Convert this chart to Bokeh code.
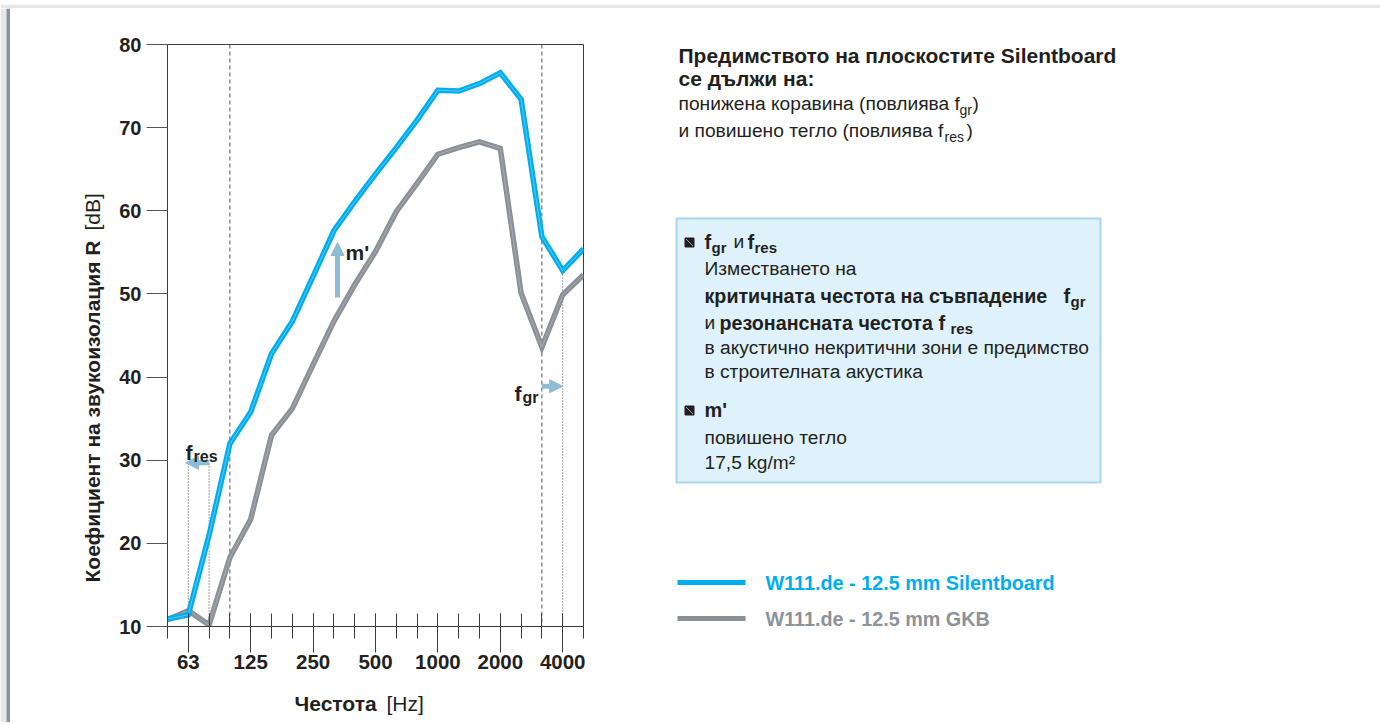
from math import pi
from bokeh.plotting import figure
from bokeh.layouts import row, column
from bokeh.models import Range1d, FixedTicker, Span, Arrow, NormalHead, Label, ColumnDataSource
from bokeh.core.properties import value
from bokeh.embed import file_html
from bokeh.resources import INLINE

# ---------------- data ----------------
bands = ["50", "63", "80", "100", "125", "160", "200", "250", "315", "400", "500",
         "630", "800", "1000", "1250", "1600", "2000", "2500", "3150", "4000", "5000"]
silentboard = [10.9, 11.4, 21.0, 32.0, 35.8, 42.8, 46.7, 52.1, 57.6, 61.1, 64.4,
               67.6, 70.9, 74.5, 74.4, 75.3, 76.6, 73.4, 56.9, 52.8, 55.4]
gkb = [10.8, 11.9, 10.2, 18.3, 22.9, 33.0, 36.2, 41.5, 46.7, 51.1, 55.1,
       59.9, 63.3, 66.8, 67.6, 68.3, 67.5, 50.1, 43.6, 49.9, 52.3]
labelled_bands = ["63", "125", "250", "500", "1000", "2000", "4000"]
y_ticks = [10, 20, 30, 40, 50, 60, 70, 80]
dashed_bands = ["100", "3150"]
fres_bands = ["63", "80"]
fgr_bands = ["3150", "4000"]
fres_level = 29.7
fgr_level = 38.9
series_names = ["W111.de - 12.5 mm Silentboard", "W111.de - 12.5 mm GKB"]

FONT = "Liberation Sans"
INK = "#231f20"
BLUE = "#00aeef"
GRAY = "#8a9096"
ARROW = "#8dbdd6"
FRAME = "#8b9399"
OUTER = "#e6e8e8"

TOTAL_W, TOTAL_H = 1380, 722
xi = list(range(len(bands)))
idx = {b: i for i, b in enumerate(bands)}


def canvas(x0, y0, w, h, xr=None):
    f = figure(width=w, height=h,
               x_range=Range1d(*(xr if xr else (x0, x0 + w))), y_range=Range1d(y0 + h, y0),
               min_border=0, x_axis_location=None, y_axis_location=None,
               output_backend="svg", toolbar_location=None)
    f.outline_line_color = None
    f.grid.visible = False
    f.background_fill_color = "white"
    f.border_fill_color = "white"
    return f


def T(f, x, y, s, size, bold=False, color=INK, angle=0.0, baseline="middle"):
    f.text(x=[x], y=[y], text=[s], text_font=value(FONT), text_font_size=value(f"{size}px"),
           text_font_style="bold" if bold else "normal", text_color=color,
           text_align="left", text_baseline=baseline, angle=angle)


# ---------------- chart ----------------
FL, FR, FT, FB = 167, 583, 44, 626      # plot frame, page px
CX0, CY0, CX1, CY1 = 110, 8, 611, 684   # chart figure box, page px
p = figure(width=CX1 - CX0, height=CY1 - CY0, x_range=Range1d(0, len(bands) - 1), y_range=Range1d(10, 80),
           min_border_left=FL - CX0, min_border_right=CX1 - FR,
           min_border_top=FT - CY0, min_border_bottom=CY1 - FB,
           output_backend="svg", toolbar_location=None)
p.outline_line_color = "#3c3c3c"
p.outline_line_width = 1
p.xgrid.visible = False
p.ygrid.visible = False
p.border_fill_color = "white"


def cx(px):
    return (px - FL) / (FR - FL) * (len(bands) - 1)


def cy(py):
    return 10 + (FB - py) / (FB - FT) * 70


p.yaxis.ticker = FixedTicker(ticks=y_ticks)
p.yaxis.major_tick_out = 21
p.yaxis.major_tick_in = 0
p.yaxis.minor_tick_out = 0
p.yaxis.minor_tick_in = 0
p.yaxis.axis_line_color = "#3c3c3c"
p.yaxis.major_tick_line_color = "#555555"
p.yaxis.major_label_text_font = FONT
p.yaxis.major_label_text_font_style = "bold"
p.yaxis.major_label_text_font_size = "20px"
p.yaxis.major_label_text_color = INK
p.yaxis.major_label_standoff = 5

p.xaxis.ticker = FixedTicker(ticks=[idx[b] for b in labelled_bands], minor_ticks=xi)
p.xaxis.major_label_overrides = {idx[b]: b for b in labelled_bands}
p.xaxis.major_tick_in = 13
p.xaxis.major_tick_out = 26
p.xaxis.minor_tick_in = 13
p.xaxis.minor_tick_out = 12
p.xaxis.axis_line_color = "#3c3c3c"
p.xaxis.major_tick_line_color = "#3c3c3c"
p.xaxis.minor_tick_line_color = "#3c3c3c"
p.xaxis.major_label_text_font = FONT
p.xaxis.major_label_text_font_style = "bold"
p.xaxis.major_label_text_font_size = "20.5px"
p.xaxis.major_label_text_color = INK
p.xaxis.major_label_standoff = 2

for b in dashed_bands:
    p.add_layout(Span(location=idx[b], dimension="height", line_color="#555555",
                      line_dash="4 3", line_width=1, level="underlay"))

dx = [idx[b] for b in fres_bands] + [idx[fgr_bands[1]]]
dtop = [fres_level, fres_level, silentboard[idx[fgr_bands[1]]]]
p.segment(x0=dx, y0=[10] * 3, x1=dx, y1=dtop, line_color="#444444", line_width=1, line_dash="1 2")

src = ColumnDataSource(dict(x=xi, sb=silentboard, gkb=gkb))
p.line("x", "gkb", source=src, line_color=GRAY, line_width=5.5, line_join="miter")
p.line("x", "gkb", source=src, line_color="#b4b9bd", line_width=1, alpha=0.7)
p.line("x", "sb", source=src, line_color=BLUE, line_width=5.5, line_join="miter")
p.line("x", "sb", source=src, line_color="#7fd4f6", line_width=1, alpha=0.7)


def arrow(x0, y0, x1, y1):
    p.add_layout(Arrow(end=NormalHead(size=13, fill_color=ARROW, line_color=ARROW),
                       x_start=x0, y_start=y0, x_end=x1, y_end=y1,
                       line_color=ARROW, line_width=5))


arrow(idx["80"], fres_level, cx(185), fres_level)
arrow(idx["3150"], fgr_level, idx["4000"], fgr_level)
arrow(cx(337), cy(297), cx(337), cy(242))


def clab(px, py, s, size, bold=True):
    p.add_layout(Label(x=cx(px), y=cy(py), text=s, text_font=FONT, text_font_size=f"{size}px",
                       text_font_style="bold" if bold else "normal", text_color=INK,
                       text_baseline="alphabetic", text_align="left"))


clab(185, 452, "f", 21)
clab(193, 456, "res", 16)
clab(514, 393, "f", 21)
clab(522, 397, "gr", 16)
clab(345, 252, "m'", 21)

# ---------------- axis titles ----------------
ylab = canvas(10, 8, CX0 - 10, TOTAL_H - 8)
T(ylab, 92, 582, "Коефициент на звукоизолация R", 21, True, angle=pi / 2)
T(ylab, 92, 230, "[dB]", 21, False, angle=pi / 2)

# this canvas's frame is aligned with the chart frame by the column layout
xlab = canvas(CX0, CY1, CX1 - CX0, TOTAL_H - CY1, xr=(FL, FR))
T(xlab, 294, 703, "Честота", 21, True, baseline="alphabetic")
T(xlab, 386, 703, "[Hz]", 21, False, baseline="alphabetic")

# ---------------- right panel ----------------
q = canvas(CX1, 8, TOTAL_W - CX1, TOTAL_H - 8)

T(q, 678, 55, "Предимството на плоскостите Silentboard", 21, True)
T(q, 678, 78, "се дължи на:", 21, True)
T(q, 678, 103, "понижена коравина (повлиява f", 19.2)
T(q, 959, 109, "gr", 14)
T(q, 972, 103, ")", 19.2)
T(q, 678, 130, "и повишено тегло (повлиява f", 19.2)
T(q, 944, 136, "res", 14)
T(q, 966, 130, ")", 19.2)

q.quad(left=[676], right=[1100], top=[218], bottom=[482], fill_color="#dff2fb",
       line_color="#a9d6ec", line_width=2)


def bullet(y):
    q.rect(x=[689], y=[y], width=9, height=9, fill_color=INK, line_color=INK)
    q.segment(x0=[685.5], y0=[y - 3.5], x1=[692.5], y1=[y + 3.5], line_color="#a0a0a0", line_width=1)


bullet(242)
T(q, 704, 241, "f", 20, True)
T(q, 711, 247, "gr", 15, True)
T(q, 733, 241, "и", 19.2)
T(q, 747, 241, "f", 20, True)
T(q, 754, 247, "res", 15, True)
T(q, 704, 268, "Изместването на", 19.2)
T(q, 704, 295, "критичната честота на съвпадение", 19.7, True)
T(q, 1063, 295, "f", 20, True)
T(q, 1070, 301, "gr", 15, True)
T(q, 704, 322, "и", 19.2)
T(q, 719, 322, "резонансната честота", 19.7, True)
T(q, 938, 322, "f", 20, True)
T(q, 950, 328, "res", 15, True)
T(q, 704, 347, "в акустично некритични зони е предимство", 19.2)
T(q, 704, 371, "в строителната акустика", 19.2)
bullet(410)
T(q, 704, 409, "m'", 20, True)
T(q, 704, 437, "повишено тегло", 19.2)
T(q, 704, 462, "17,5 kg/m²", 19.2)

for y, col, tcol, name in [(582, BLUE, BLUE, series_names[0]), (618, GRAY, "#8d9398", series_names[1])]:
    q.segment(x0=[677], y0=[y], x1=[745], y1=[y], line_color=col, line_width=5)
    T(q, 765, y, name, 19.8, True, tcol)

# ---------------- page frame ----------------
top = canvas(0, 0, TOTAL_W, 8)
top.quad(left=[0], right=[TOTAL_W], top=[0], bottom=[8], fill_color=OUTER, line_color=None)
top.quad(left=[6], right=[TOTAL_W], top=[4], bottom=[8], fill_color=FRAME, line_color=None)
left = canvas(0, 8, 10, TOTAL_H - 8)
left.quad(left=[0], right=[6], top=[8], bottom=[TOTAL_H], fill_color=OUTER, line_color=None)
left.quad(left=[6], right=[10], top=[8], bottom=[TOTAL_H], fill_color=FRAME, line_color=None)

layout = column(top, row(left, ylab, column(p, xlab), q))
open("out.html", "w").write(file_html(layout, INLINE))
